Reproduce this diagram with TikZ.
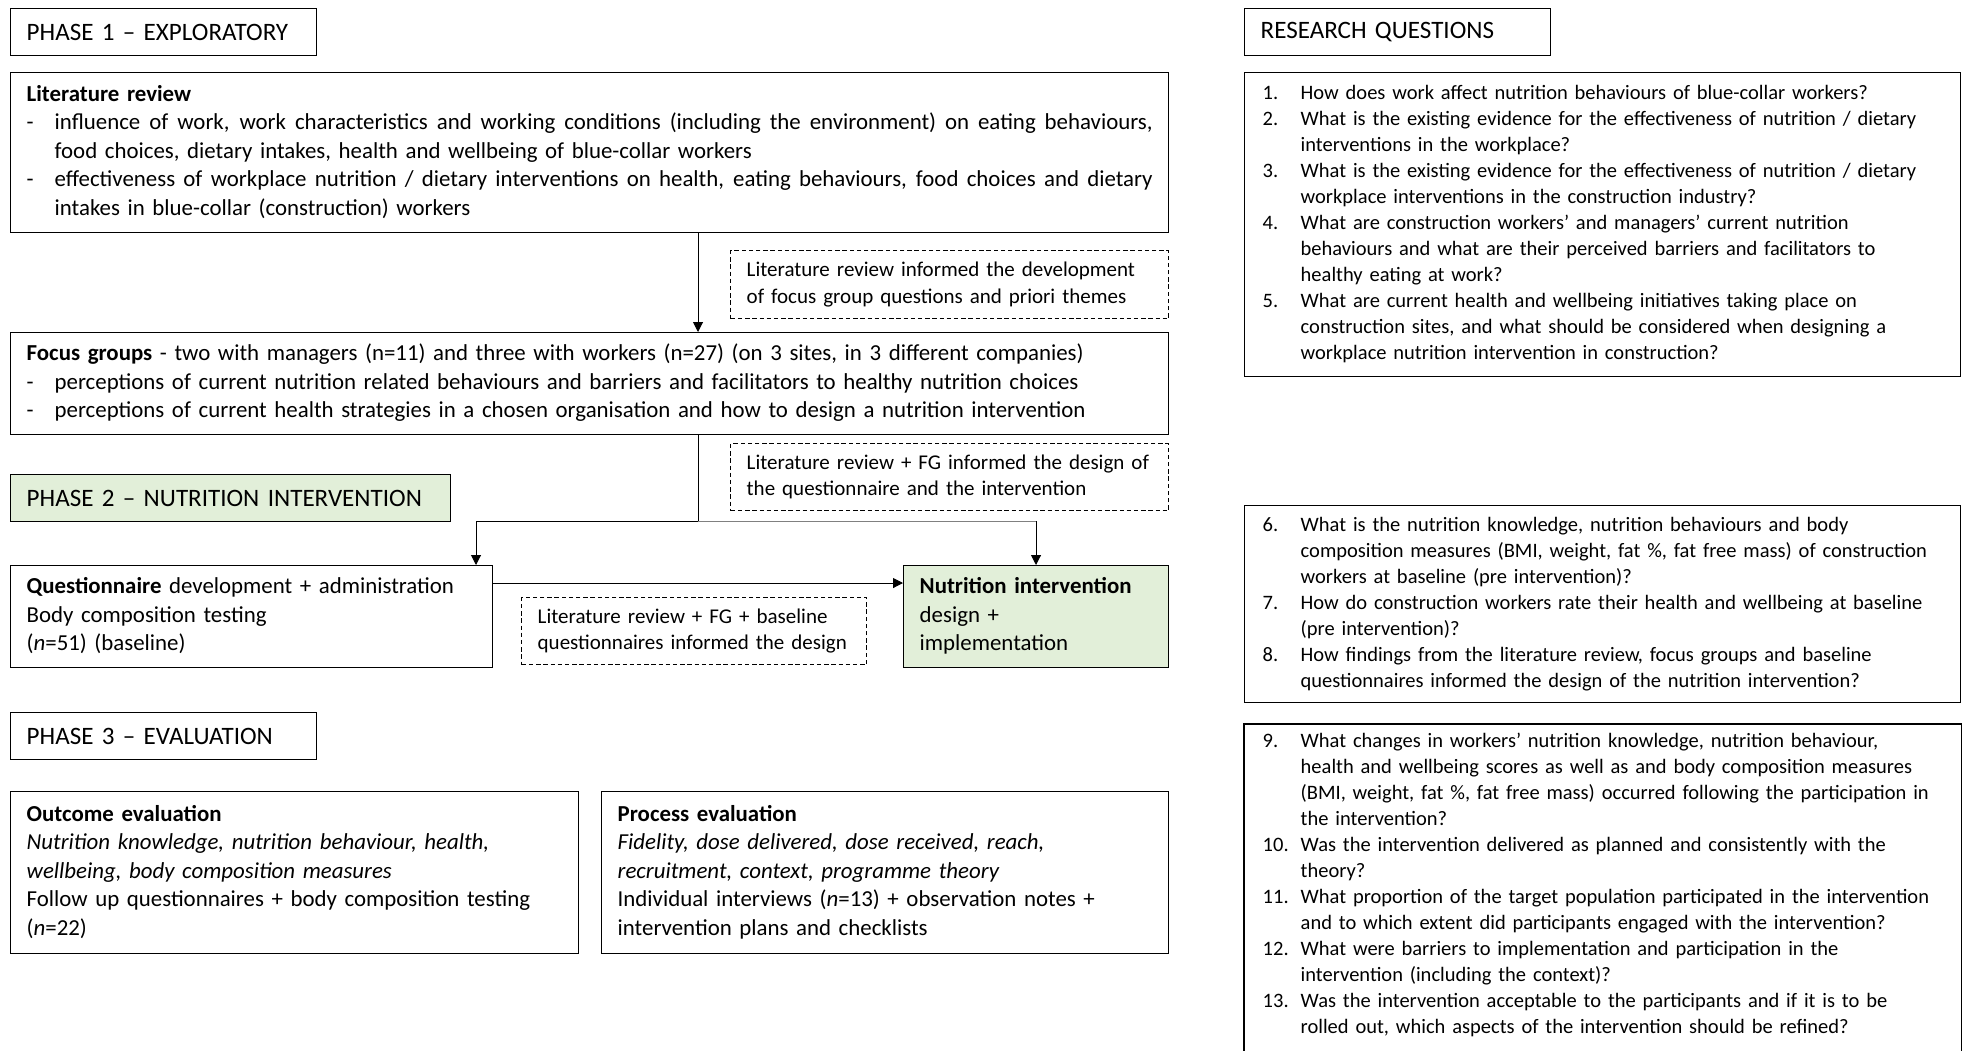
\documentclass[tikz,border=0pt]{standalone}
\usepackage{fontspec}
\setmainfont{Carlito}
\usetikzlibrary{arrows.meta}

% list helpers
\newcommand{\dashitem}{\makebox[14pt][l]{-}}
\newcommand{\dashind}{\hspace*{14pt}}
% a justified line, spread over the full text width
\newcommand{\fullline}[1]{\hbox to 549pt{\spaceskip=\fontdimen2\font plus 1fil\relax #1}}
\newcommand{\rqnum}[1]{\makebox[19pt][l]{#1}}
\newcommand{\rqind}{\hspace*{19pt}}
% a block of lines that are never re-wrapped
\newcommand{\boxlines}[1]{\begin{tabular}{@{}l@{}}#1\end{tabular}}

\definecolor{phasegreen}{HTML}{E2EFD9}

\begin{document}
\begin{tikzpicture}[x=0.5pt,y=-0.5pt,
  box/.style={draw, line width=0.7pt, rectangle, anchor=north west, align=left,
    inner xsep=8pt, inner ysep=0pt, font=\fontsize{11.43}{14.2}\selectfont},
  header/.style={box, font=\fontsize{12.53}{15}\selectfont, minimum height=23.5pt},
  note/.style={box, dash pattern=on 2.2pt off 1.4pt, font=\fontsize{10.5}{13.4}\selectfont},
  qbox/.style={box, inner xsep=9pt, font=\fontsize{10.25}{13}\selectfont},
  green/.style={fill=phasegreen},
  conn/.style={line width=0.5pt},
  arr/.style={-{Triangle[length=5pt,width=5pt]}}
]
\fill[white] (0,0) rectangle (1973,1050);
\useasboundingbox (0,0) rectangle (1973,1050);

% ---------- phase 1 ----------
\node[header, text width=137pt] (ph1) at (10,8) {PHASE 1 -- EXPLORATORY};

\node[box, text width=563pt, minimum height=80pt] (lit) at (10,72) {\boxlines{%
\textbf{Literature review}\\
\dashitem\fullline{influence of work, work characteristics and working conditions (including the environment) on eating behaviours,}\\
\dashind food choices, dietary intakes, health and wellbeing of blue-collar workers\\
\dashitem\fullline{effectiveness of workplace nutrition / dietary interventions on health, eating behaviours, food choices and dietary}\\
\dashind intakes in blue-collar (construction) workers}};

\node[note, text width=203pt, minimum height=34pt] (note1) at (730,250) {\boxlines{%
Literature review informed the development\\
of focus group questions and priori themes}};

\node[box, text width=563pt, minimum height=51pt] (focus) at (10,332) {\boxlines{%
\textbf{Focus groups} - two with managers (n=11) and three with workers (n=27) (on 3 sites, in 3 different companies)\\
\dashitem perceptions of current nutrition related behaviours and barriers and facilitators to healthy nutrition choices\\
\dashitem perceptions of current health strategies in a chosen organisation and how to design a nutrition intervention}};

% ---------- phase 2 ----------
\node[note, text width=203pt, minimum height=33.5pt] (note2) at (730,443) {\boxlines{%
Literature review + FG informed the design of\\
the questionnaire and the intervention}};

\node[header, green, text width=204pt] (ph2) at (10,474) {PHASE 2 -- NUTRITION INTERVENTION};

\node[box, text width=225pt, minimum height=51pt] (quest) at (10,565) {\boxlines{%
\textbf{Questionnaire} development + administration\\
Body composition testing\\
(\textit{n}=51) (baseline)}};

\node[note, text width=156.5pt, minimum height=33.5pt] (note3) at (521,597) {\boxlines{%
Literature review + FG + baseline\\
questionnaires informed the design}};

\node[box, green, text width=116.5pt, minimum height=51pt] (nutr) at (903,565) {\boxlines{%
\textbf{Nutrition intervention}\\
design +\\
implementation}};

% ---------- phase 3 ----------
\node[header, text width=137pt] (ph3) at (10,712) {PHASE 3 -- EVALUATION};

\node[box, text width=268pt, minimum height=81pt] (outc) at (10,791) {\boxlines{%
\textbf{Outcome evaluation}\\
\textit{Nutrition knowledge, nutrition behaviour, health,}\\
\textit{wellbeing, body composition measures}\\
Follow up questionnaires + body composition testing\\
(\textit{n}=22)}};

\node[box, text width=267.5pt, minimum height=81pt] (proc) at (601,791) {\boxlines{%
\textbf{Process evaluation}\\
\textit{Fidelity, dose delivered, dose received, reach,}\\
\textit{recruitment, context, programme theory}\\
Individual interviews (\textit{n}=13) + observation notes +\\
intervention plans and checklists}};

% ---------- research questions ----------
\node[header, text width=137pt] (rqh) at (1244,8) {RESEARCH QUESTIONS};

\node[qbox, text width=340pt, minimum height=152pt] (rq1) at (1244,72) {\boxlines{%
\rqnum{1.}How does work affect nutrition behaviours of blue-collar workers?\\
\rqnum{2.}What is the existing evidence for the effectiveness of nutrition / dietary\\
\rqind interventions in the workplace?\\
\rqnum{3.}What is the existing evidence for the effectiveness of nutrition / dietary\\
\rqind workplace interventions in the construction industry?\\
\rqnum{4.}What are construction workers’ and managers’ current nutrition\\
\rqind behaviours and what are their perceived barriers and facilitators to\\
\rqind healthy eating at work?\\
\rqnum{5.}What are current health and wellbeing initiatives taking place on\\
\rqind construction sites, and what should be considered when designing a\\
\rqind workplace nutrition intervention in construction?}};

\node[qbox, text width=340pt, minimum height=98.5pt] (rq2) at (1244,505) {\boxlines{%
\rqnum{6.}What is the nutrition knowledge, nutrition behaviours and body\\
\rqind composition measures (BMI, weight, fat \%, fat free mass) of construction\\
\rqind workers at baseline (pre intervention)?\\
\rqnum{7.}How do construction workers rate their health and wellbeing at baseline\\
\rqind (pre intervention)?\\
\rqnum{8.}How findings from the literature review, focus groups and baseline\\
\rqind questionnaires informed the design of the nutrition intervention?}};

\node[qbox, draw=none, text width=340pt, minimum height=160.5pt] (rq3) at (1244,724) {\boxlines{%
\rqnum{9.}What changes in workers’ nutrition knowledge, nutrition behaviour,\\
\rqind health and wellbeing scores as well as and body composition measures\\
\rqind (BMI, weight, fat \%, fat free mass) occurred following the participation in\\
\rqind the intervention?\\
\rqnum{10.}Was the intervention delivered as planned and consistently with the\\
\rqind theory?\\
\rqnum{11.}What proportion of the target population participated in the intervention\\
\rqind and to which extent did participants engaged with the intervention?\\
\rqnum{12.}What were barriers to implementation and participation in the\\
\rqind intervention (including the context)?\\
\rqnum{13.}Was the intervention acceptable to the participants and if it is to be\\
\rqind rolled out, which aspects of the intervention should be refined?}};
% the last box runs on past the lower edge of the page
\draw[line width=0.7pt] (rq3.north west) rectangle ([yshift=-6pt]rq3.south east);

% ---------- connectors ----------
\coordinate (spine) at (698,521);
\coordinate (leftdrop) at (476,521);
\coordinate (rightdrop) at (1036,521);
\coordinate (sideline) at (0,583);

\draw[conn,arr] (lit.south -| spine) -- (focus.north -| spine);
\draw[conn] (focus.south -| spine) -- (spine);
\draw[conn,arr] (spine) -- (leftdrop) -- (quest.north -| leftdrop);
\draw[conn,black!50] (spine) -- (rightdrop);
\draw[conn,arr] (rightdrop) -- (nutr.north -| rightdrop);
\draw[conn,arr] (quest.east |- sideline) -- (nutr.west |- sideline);
\end{tikzpicture}
\end{document}
